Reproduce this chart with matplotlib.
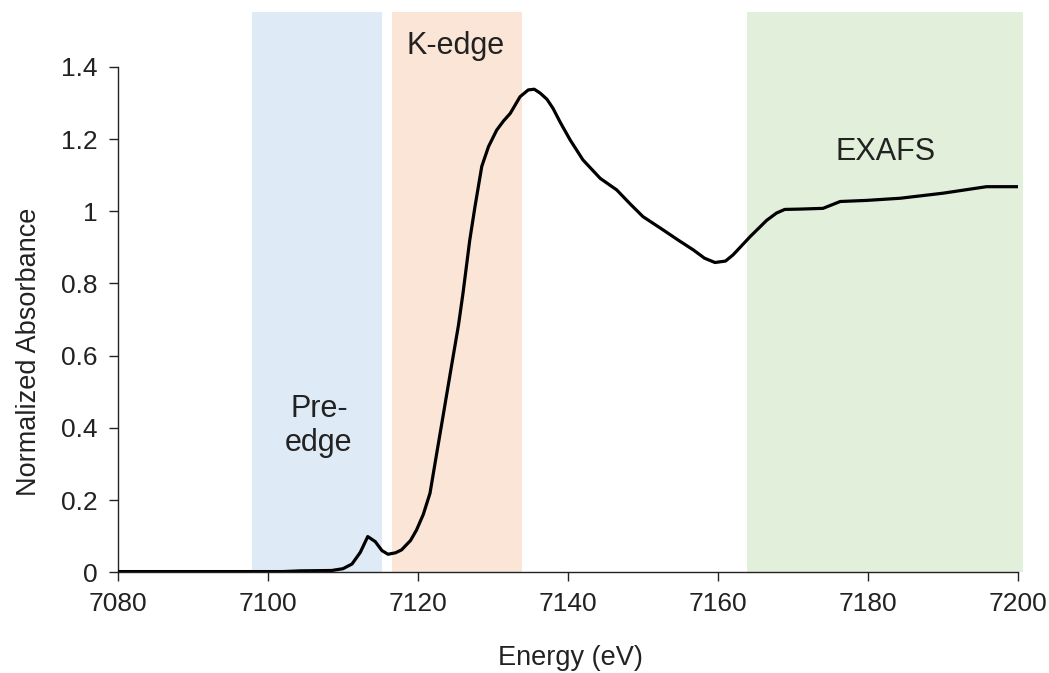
import matplotlib
matplotlib.use("Agg")
import matplotlib.pyplot as plt

plt.rcParams['font.family'] = ['Liberation Sans', 'DejaVu Sans']

# Data
energy = [7080, 7090, 7100, 7102, 7104.3, 7108.5, 7110, 7111.2, 7112.3, 7113.3, 7114.3, 7115.2,
          7116.0, 7117.0, 7117.8, 7119.0, 7119.8, 7120.7, 7121.6, 7122.5, 7123.4, 7124.3,
          7125.4, 7126.0, 7126.9, 7127.6, 7128.5, 7129.4, 7130.5, 7131.4, 7132.3, 7133.6,
          7134.7, 7135.5, 7136.3, 7137.2, 7138.0, 7139.0, 7140.3, 7142.0, 7144.3, 7146.5,
          7148.3, 7150.0, 7152.7, 7154.7, 7156.7, 7158.2, 7159.6, 7161.0, 7162.0, 7164.3,
          7166.5, 7167.8, 7168.9, 7171.0, 7174.0, 7176.3, 7179.8, 7184.3, 7190.0, 7195.8,
          7199.8]
absorb = [0.002, 0.002, 0.002, 0.002, 0.004, 0.005, 0.010, 0.023, 0.055, 0.099, 0.085, 0.060,
          0.050, 0.054, 0.062, 0.088, 0.117, 0.160, 0.219, 0.330, 0.440, 0.551,
          0.685, 0.773, 0.920, 1.013, 1.124, 1.179, 1.225, 1.250, 1.271, 1.317,
          1.336, 1.338, 1.327, 1.310, 1.285, 1.245, 1.197, 1.142, 1.091, 1.059,
          1.020, 0.985, 0.948, 0.920, 0.893, 0.870, 0.858, 0.862, 0.879, 0.930,
          0.975, 0.995, 1.005, 1.006, 1.008, 1.027, 1.030, 1.036, 1.050, 1.068,
          1.068]

regions = [(7097.9, 7115.2), (7116.5, 7133.8), (7163.9, 7200.7)]
region_colors = ['#DEEAF6', '#FBE5D6', '#E2EFDA']
region_labels = ['Pre-\nedge', 'K-edge', 'EXAFS']
label_pos = [(7106.8, 0.405), (7125.0, 1.458), (7182.3, 1.163)]

xticks = [7080, 7100, 7120, 7140, 7160, 7180, 7200]
yticks = [0, 0.2, 0.4, 0.6, 0.8, 1.0, 1.2, 1.4]
ytick_labels = ['0', '0.2', '0.4', '0.6', '0.8', '1', '1.2', '1.4']

fig = plt.figure(figsize=(10.49, 6.73), dpi=100)
ax = fig.add_axes([118/1049, 100.7/673, 900/1049, 560/673])

for (a, b), c in zip(regions, region_colors):
    ax.axvspan(a, b, color=c, lw=0, zorder=0, clip_on=False)

for t, (x, y) in zip(region_labels, label_pos):
    ax.text(x, y, t, ha='center', va='center', fontsize=22, color='#222222',
            linespacing=1.2)

ax.plot(energy, absorb, color='black', lw=2.3, zorder=3, solid_joinstyle='round')

ax.set_xlim(7080, 7200)
ax.set_ylim(0, 1.551)
ax.set_xticks(xticks)
ax.set_yticks(yticks)
ax.set_yticklabels(ytick_labels)
ax.tick_params(axis='both', labelsize=19, length=6.5, width=1.0, color='#222222',
               labelcolor='#222222', pad=8)

for s in ['top', 'right']:
    ax.spines[s].set_visible(False)
ax.spines['left'].set_bounds(0, 1.4)
for s in ['left', 'bottom']:
    ax.spines[s].set_linewidth(1.0)
    ax.spines[s].set_color('#222222')
ax.spines['bottom'].set_zorder(4)

fig.text(570/1049, 1 - 658/673, 'Energy (eV)', ha='center', va='center', fontsize=19.5,
         color='#222222')
fig.text(29/1049, 1 - 352/673, 'Normalized Absorbance', ha='center', va='center',
         rotation=90, fontsize=19.5, color='#222222')

fig.savefig('out.png', dpi=100)
